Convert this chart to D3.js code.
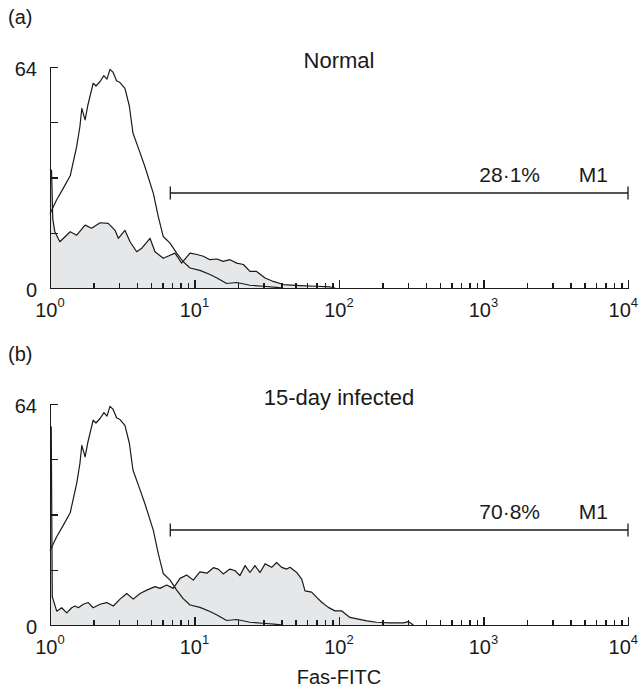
<!DOCTYPE html>
<html lang="en">
<head>
	<meta charset="utf-8">
	<title>Fas-FITC histograms</title>
	<script type="text/javascript" src="https://d3js.org/d3.v7.min.js"></script>
	<style type="text/css">
	body{
		margin: 0;
		background: #fff;
	}
	svg text{
		font-family: "Liberation Sans", Arial, sans-serif;
		fill: #1a1a1a;
	}
	.axis path,
	.axis line{
		fill: none;
		stroke: #1a1a1a;
		stroke-width: 1.3px;
		shape-rendering: crispEdges;
	}
	.axis text{
		font-size: 20px;
	}
	</style>
</head>
<body>
<script type="text/javascript">

// isotype control (open curve) - same in both panels
var isoFluor = [1.0, 1.11, 1.24, 1.38, 1.53, 1.61, 1.66, 1.70, 1.75, 1.83,
	1.99, 2.08, 2.22, 2.36, 2.48, 2.60, 2.73, 2.89, 3.05, 3.30,
	3.54, 3.75, 4.13, 4.54, 5.19, 5.62, 6.08, 6.77, 7.53, 8.32,
	9.31, 10.9, 12.8, 14.3, 16.7, 19.6, 24.2, 29.8, 37.0, 41.0];
var isoCount = [21.5, 25.5, 29.0, 32.5, 41.0, 46.7, 52.0, 50.5, 48.7, 53.0,
	59.3, 58.5, 59.8, 61.5, 60.5, 63.3, 62.5, 60.0, 59.5, 57.8,
	52.7, 44.9, 40.0, 35.1, 27.4, 20.6, 14.9, 13.0, 10.1, 7.7,
	5.8, 5.1, 3.9, 2.9, 1.3, 1.6, 0.8, 0.5, 0.2, 0];

// Fas staining, normal (grey)
var normalFluor = [1.0, 1.025, 1.045, 1.08, 1.17, 1.38, 1.53, 1.75, 1.94, 2.22,
	2.53, 2.82, 2.97, 3.30, 3.58, 3.98, 4.31, 4.92, 5.33, 6.08,
	7.33, 8.15, 9.31, 10.4, 11.5, 12.8, 14.3, 15.8, 17.6, 19.6,
	21.8, 24.2, 26.9, 30.8, 35.1, 41.2, 53.7, 70, 87, 94];
var normalCount = [34.5, 34, 20, 16.3, 13.4, 16.3, 15.3, 18.2, 17.3, 18.9,
	18.7, 16.7, 14.4, 16.7, 13.4, 10.5, 11.5, 14.4, 10.5, 8.6,
	10.1, 7.2, 10.1, 9.7, 9.2, 8.2, 8.4, 7.7, 8.2, 7.2,
	6.8, 4.8, 4.8, 2.9, 1.9, 1.0, 0.7, 0.5, 0.3, 0];

// Fas staining, 15-day infected (grey)
var infectedFluor = [1.0, 1.02, 1.037, 1.113, 1.205, 1.305, 1.413, 1.489, 1.57, 1.70,
	1.84, 1.99, 2.22, 2.47, 2.74, 3.05, 3.40, 3.77, 4.20, 4.67,
	5.33, 5.77, 6.42, 7.13, 7.94, 8.83, 9.81, 10.9, 12.2, 13.5,
	14.6, 15.8, 17.6, 19.1, 20.6, 22.4, 24.2, 26.2, 28.4, 30.8,
	34.2, 37.0, 40.1, 43.5, 45.8, 51.0, 55.2, 58.2, 64.7, 70.1,
	75.9, 84.3, 93.8, 104, 119, 136, 156, 182, 225, 279,
	302, 327];
var infectedCount = [57.4, 57.4, 8.2, 4.0, 5.0, 3.5, 5.0, 5.5, 5.0, 6.0,
	6.5, 5.0, 6.0, 6.5, 5.5, 7.5, 9.1, 7.5, 9.1, 10.1,
	11.1, 10.6, 11.6, 10.6, 13.5, 14.5, 13.0, 15.4, 15.0, 16.6,
	16.2, 14.8, 16.2, 15.7, 14.3, 17.2, 15.2, 17.2, 15.2, 17.7,
	16.7, 18.1, 16.7, 16.2, 16.7, 15.2, 13.3, 9.9, 9.5, 8.0,
	6.6, 5.1, 4.1, 4.1, 2.2, 1.7, 1.2, 0.8, 0.6, 0.6,
	1.0, 0];

var panelTags = ["(a)", "(b)"];
var panelTitles = ["Normal", "15-day infected"];
var markerPercents = ["28\u00b71%", "70\u00b78%"];
var markerName = "M1";
var markerRange = [6.8, 10000];
var yTicks = [0, 16, 32, 48, 64];
var yLabels = [0, 64];
var xDecades = [1, 10, 100, 1000, 10000];
var xTitle = "Fas-FITC";

var w = 640;
var h = 694;
var left = 50, right = 628;
var panelTop = 67, panelBottom = 288, panelStep = 337;

var svg = d3.select("body")
	.append("svg")
	.attr("width", w)
	.attr("height", h);

var xScale = d3.scaleLog()
	.domain([1, 10000])
	.range([left, right]);

function zip(xs, ys){
	return xs.map(function(v, i){ return [v, ys[i]]; });
}

var panels = [
	{fill: zip(normalFluor, normalCount), open: zip(isoFluor, isoCount)},
	{fill: zip(infectedFluor, infectedCount), open: zip(isoFluor, isoCount)}
];

panels.forEach(function(p, k){
	var off = k * panelStep;
	var g = svg.append("g");

	var yScale = d3.scaleLinear()
		.domain([0, 64])
		.range([panelBottom + off, panelTop + off]);

	var area = d3.area()
		.x(function(d){ return xScale(d[0]); })
		.y0(yScale(0))
		.y1(function(d){ return yScale(d[1]); });

	var line = d3.line()
		.x(function(d){ return xScale(d[0]); })
		.y(function(d){ return yScale(d[1]); });

	g.append("path")
		.datum(p.fill)
		.attr("d", area)
		.attr("fill", "#e6e7e8")
		.attr("stroke", "none");

	g.append("path")
		.datum(p.fill)
		.attr("d", line)
		.attr("fill", "none")
		.attr("stroke", "#1a1a1a")
		.attr("stroke-width", 1.2)
		.attr("stroke-linejoin", "round");

	g.append("path")
		.datum(p.open)
		.attr("d", line)
		.attr("fill", "none")
		.attr("stroke", "#1a1a1a")
		.attr("stroke-width", 1.2)
		.attr("stroke-linejoin", "round");

	// x axis, ticks pointing up
	var xAxis = d3.axisBottom(xScale)
		.tickValues(xScale.ticks())
		.tickSizeOuter(0)
		.tickFormat("");

	var gx = g.append("g")
		.attr("class", "axis")
		.attr("transform", "translate(0," + yScale(0) + ")")
		.call(xAxis);

	gx.selectAll(".tick line")
		.attr("y2", function(d){
			return xDecades.indexOf(d) >= 0 ? -8 : -5;
		});

	// last label kept inside the page edge
	var lab = gx.selectAll(".dec")
		.data(xDecades)
		.enter()
		.append("text")
		.attr("class", "dec")
		.attr("x", function(d, i){ return i == xDecades.length - 1 ? w - 2 : xScale(d); })
		.attr("y", 29)
		.attr("text-anchor", function(d, i){ return i == xDecades.length - 1 ? "end" : "middle"; })
		.attr("fill", "#1a1a1a");
	lab.append("tspan").text("10");
	lab.append("tspan")
		.attr("dy", -10)
		.style("font-size", "13px")
		.text(function(d){ return Math.round(Math.log10(d)); });

	// y axis, ticks pointing right
	var yAxis = d3.axisLeft(yScale)
		.tickValues(yTicks)
		.tickSizeInner(-8)
		.tickSizeOuter(0)
		.tickPadding(13)
		.tickFormat(function(d){ return yLabels.indexOf(d) >= 0 ? d : ""; });

	var gy = g.append("g")
		.attr("class", "axis")
		.attr("transform", "translate(" + left + ",0)")
		.call(yAxis);
	gy.selectAll(".tick text").attr("dy", "0.42em");

	// marker M1
	var my = 193 + off;
	var mx0 = xScale(markerRange[0]), mx1 = xScale(markerRange[1]);
	g.append("line")
		.attr("x1", mx0).attr("x2", mx1)
		.attr("y1", my).attr("y2", my)
		.attr("stroke", "#1a1a1a")
		.attr("stroke-width", 1.3);
	[mx0, mx1].forEach(function(mx){
		g.append("line")
			.attr("x1", mx).attr("x2", mx)
			.attr("y1", my - 6.5).attr("y2", my + 6.5)
			.attr("stroke", "#1a1a1a")
			.attr("stroke-width", 1.3);
	});
	g.append("text")
		.attr("x", mx1 - 88)
		.attr("y", my - 11)
		.attr("text-anchor", "end")
		.style("font-size", "21px")
		.text(markerPercents[k]);
	g.append("text")
		.attr("x", mx1 - 20)
		.attr("y", my - 11)
		.attr("text-anchor", "end")
		.style("font-size", "21px")
		.text(markerName);

	// panel title and tag
	g.append("text")
		.attr("x", (left + right) / 2)
		.attr("y", panelTop + off + 1)
		.attr("text-anchor", "middle")
		.style("font-size", "22px")
		.text(panelTitles[k]);
	g.append("text")
		.attr("x", 8)
		.attr("y", 24 + off)
		.style("font-size", "20px")
		.text(panelTags[k]);
});

svg.append("text")
	.attr("x", (left + right) / 2)
	.attr("y", 684)
	.attr("text-anchor", "middle")
	.style("font-size", "20px")
	.text(xTitle);

</script>
</body>
</html>
